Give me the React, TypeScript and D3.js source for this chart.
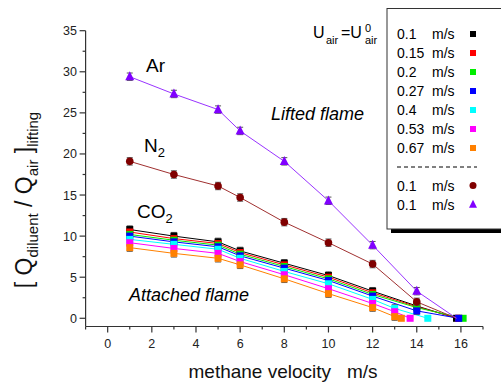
import React from 'react';
import * as d3 from 'd3';

// methane velocity (m/s) at which lifting was measured
const velocities = [1, 3, 5, 6, 8, 10, 12, 14, 16];

// Ar and N2 (air velocity 0.1 m/s)
const arX = [1, 3, 5, 6, 8, 10, 12, 14, 15.8];
const arY = [29.4, 27.3, 25.4, 22.8, 19.1, 14.3, 8.9, 3.3, 0];
const n2X = [1, 3, 5, 6, 8, 10, 12, 14, 15.8];
const n2Y = [19.1, 17.5, 16.1, 14.7, 11.7, 9.2, 6.6, 2.0, 0];

// CO2 at different air velocities
const co2_010X = [1, 3, 5, 6, 8, 10, 12, 14, 15.8];
const co2_010Y = [10.8, 10.0, 9.3, 8.2, 6.7, 5.2, 3.3, 1.5, 0];
const co2_015X = [1, 3, 5, 6, 8, 10, 12, 14, 15.9];
const co2_015Y = [10.5, 9.7, 9.1, 8.0, 6.5, 5.0, 3.1, 1.4, 0];
const co2_020X = [1, 3, 5, 6, 8, 10, 12, 14, 16.1];
const co2_020Y = [10.2, 9.5, 8.9, 7.8, 6.3, 4.8, 2.9, 1.3, 0];
const co2_027X = [1, 3, 5, 6, 8, 10, 12, 14, 15.9];
const co2_027Y = [10.0, 9.3, 8.7, 7.6, 6.1, 4.6, 2.7, 0.9, 0];
const co2_040X = [1, 3, 5, 6, 8, 10, 12, 13, 14.5];
const co2_040Y = [9.6, 9.0, 8.4, 7.3, 5.7, 4.2, 2.3, 1.2, 0];
const co2_053X = [1, 3, 5, 6, 8, 10, 12, 13, 13.7];
const co2_053Y = [9.2, 8.5, 7.9, 6.9, 5.3, 3.6, 1.8, 0.8, 0];
const co2_067X = [1, 3, 5, 6, 8, 10, 12, 13, 13.3];
const co2_067Y = [8.6, 7.9, 7.3, 6.5, 4.8, 3.0, 1.3, 0.2, 0];

const legendLabels = ['0.1', '0.15', '0.2', '0.27', '0.4', '0.53', '0.67'];
const co2Colors = ['#000000', '#ff0000', '#00ee00', '#0000ff', '#00ffff', '#ff00ff', '#ff8000'];
const yTicks = [0, 5, 10, 15, 20, 25, 30, 35];
const xTicks = [0, 2, 4, 6, 8, 10, 12, 14, 16];

const co2Series = [
  { x: co2_010X, y: co2_010Y },
  { x: co2_015X, y: co2_015Y },
  { x: co2_020X, y: co2_020Y },
  { x: co2_027X, y: co2_027Y },
  { x: co2_040X, y: co2_040Y },
  { x: co2_053X, y: co2_053Y },
  { x: co2_067X, y: co2_067Y },
];

const font = '"Liberation Sans", Arial, sans-serif';

export default function App() {
  const width = 501;
  const height = 387;
  const x = d3.scaleLinear().domain([-1, 17]).range([85.6, 483]);
  const y = d3.scaleLinear().domain([-1, 35]).range([326.5, 30.7]);
  const line = d3.line<[number, number]>().x(d => x(d[0])).y(d => y(d[1]));
  const err = 0.45;

  const errBar = (px: number, py: number, key: string) => (
    <g key={key} stroke="#555" strokeWidth={1}>
      <line x1={px} x2={px} y1={y(py + err)} y2={y(py - err)} />
      <line x1={px - 3} x2={px + 3} y1={y(py + err)} y2={y(py + err)} />
      <line x1={px - 3} x2={px + 3} y1={y(py - err)} y2={y(py - err)} />
    </g>
  );

  const tri = (cx: number, cy: number, s: number) =>
    `M${cx},${cy - s * 0.6}L${cx + s / 2},${cy + s * 0.4}L${cx - s / 2},${cy + s * 0.4}Z`;

  const minorY = d3.range(2.5, 35, 5);
  const minorX = d3.range(-1, 18, 2);
  const legendRows = [34, 53, 72, 91, 110, 129, 148];

  return (
    <svg width={width} height={height} style={{ position: 'absolute', left: 0, top: 0 }} fontFamily={font}>
      <rect width={width} height={height} fill="#fff" />

      {/* axes */}
      <g stroke="#333" strokeWidth={1.2}>
        <line x1={x(-1)} x2={x(-1)} y1={y(-1)} y2={y(35)} />
        <line x1={x(-1)} x2={x(17)} y1={y(-1)} y2={y(-1)} />
        {yTicks.map(t => <line key={'yt' + t} x1={x(-1) - 6} x2={x(-1)} y1={y(t)} y2={y(t)} />)}
        {minorY.map(t => <line key={'ym' + t} x1={x(-1) - 3} x2={x(-1)} y1={y(t)} y2={y(t)} />)}
        {xTicks.map(t => <line key={'xt' + t} x1={x(t)} x2={x(t)} y1={y(-1)} y2={y(-1) + 6} />)}
        {minorX.map(t => <line key={'xm' + t} x1={x(t)} x2={x(t)} y1={y(-1)} y2={y(-1) + 3} />)}
      </g>
      {yTicks.map(t => (
        <text key={'yl' + t} x={77} y={y(t) + 4.5} fontSize={12.5} textAnchor="end" fill="#222">{t}</text>
      ))}
      {xTicks.map(t => (
        <text key={'xl' + t} x={x(t)} y={348} fontSize={12.5} textAnchor="middle" fill="#222">{t}</text>
      ))}

      {/* axis titles */}
      <text x={283} y={378} fontSize={19} textAnchor="middle" fill="#111">methane velocity{'\u00a0\u00a0\u00a0'}m/s</text>
      <text transform="translate(32,200) rotate(-90)" fontSize={23} textAnchor="middle" fill="#111">
        <tspan>[ Q</tspan>
        <tspan fontSize={15} dy={6}>diluent</tspan>
        <tspan dy={-6}> / Q</tspan>
        <tspan fontSize={15} dy={6}>air</tspan>
        <tspan dy={-6}> ]</tspan>
        <tspan fontSize={15} dy={6}>lifting</tspan>
      </text>

      {/* CO2 series */}
      {co2Series.map((s, i) => (
        <path key={'cl' + i} d={line(s.x.map((v, j) => [v, s.y[j]] as [number, number])) || ''}
          fill="none" stroke={co2Colors[i]} strokeWidth={1} />
      ))}
      {co2Series.map((s, i) => s.x.map((v, j) =>
        s.y[j] > 0 ? errBar(x(v), s.y[j], `ce${i}-${j}`) : null))}
      {co2Series.map((s, i) => s.x.map((v, j) => (
        <rect key={`cm${i}-${j}`} x={x(v) - 3.5} y={y(s.y[j]) - 3.5} width={7} height={7} fill={co2Colors[i]} />
      )))}

      {/* N2 */}
      <path d={line(n2X.map((v, j) => [v, n2Y[j]] as [number, number])) || ''} fill="none" stroke="#a03030" strokeWidth={1} />
      {n2X.map((v, j) => n2Y[j] > 0 ? errBar(x(v), n2Y[j], 'ne' + j) : null)}
      {n2X.map((v, j) => n2Y[j] > 0 ? <circle key={'nm' + j} cx={x(v)} cy={y(n2Y[j])} r={3.8} fill="#800000" /> : null)}

      {/* Ar */}
      <path d={line(arX.map((v, j) => [v, arY[j]] as [number, number])) || ''} fill="none" stroke="#9933ff" strokeWidth={1} />
      {arX.map((v, j) => arY[j] > 0 ? errBar(x(v), arY[j], 'ae' + j) : null)}
      {arX.map((v, j) => arY[j] > 0 ? <path key={'am' + j} d={tri(x(v), y(arY[j]), 9)} fill="#8000ff" /> : null)}

      {/* annotations */}
      <text x={146} y={72} fontSize={19} fill="#000">Ar</text>
      <text x={144} y={152} fontSize={19} fill="#000">N<tspan fontSize={13} dy={5}>2</tspan></text>
      <text x={137} y={218} fontSize={19} fill="#000">CO<tspan fontSize={13} dy={5}>2</tspan></text>
      <text x={271} y={120} fontSize={18} fontStyle="italic" fill="#000">Lifted flame</text>
      <text x={129} y={301} fontSize={18} fontStyle="italic" fill="#000">Attached flame</text>
      <text x={313} y={38} fontSize={16} fill="#000">U</text>
      <text x={326} y={44} fontSize={11} fill="#000">air</text>
      <text x={341} y={38} fontSize={16} fill="#000">=U</text>
      <text x={365} y={32} fontSize={11} fill="#000">0</text>
      <text x={365} y={44} fontSize={11} fill="#000">air</text>

      {/* legend */}
      <rect x={391} y={229} width={120} height={4} fill="#000" />
      <rect x={387} y={8.5} width={130} height={220.5} fill="#fff" stroke="#333" strokeWidth={1} />
      {legendLabels.map((lab, i) => (
        <g key={'lg' + i}>
          <text x={397} y={legendRows[i] + 5} fontSize={14} fill="#000">{lab}</text>
          <text x={432} y={legendRows[i] + 5} fontSize={14} fill="#000">m/s</text>
          <rect x={470} y={legendRows[i] - 3} width={6} height={6} fill={co2Colors[i]} />
        </g>
      ))}
      <line x1={397} x2={477} y1={167} y2={167} stroke="#000" strokeDasharray="4,3" />
      <text x={397} y={190.5} fontSize={14} fill="#000">0.1</text>
      <text x={432} y={190.5} fontSize={14} fill="#000">m/s</text>
      <circle cx={473} cy={185.5} r={3.5} fill="#800000" />
      <text x={397} y={209.5} fontSize={14} fill="#000">0.1</text>
      <text x={432} y={209.5} fontSize={14} fill="#000">m/s</text>
      <path d={tri(473, 204.5, 8)} fill="#8000ff" />
    </svg>
  );
}
